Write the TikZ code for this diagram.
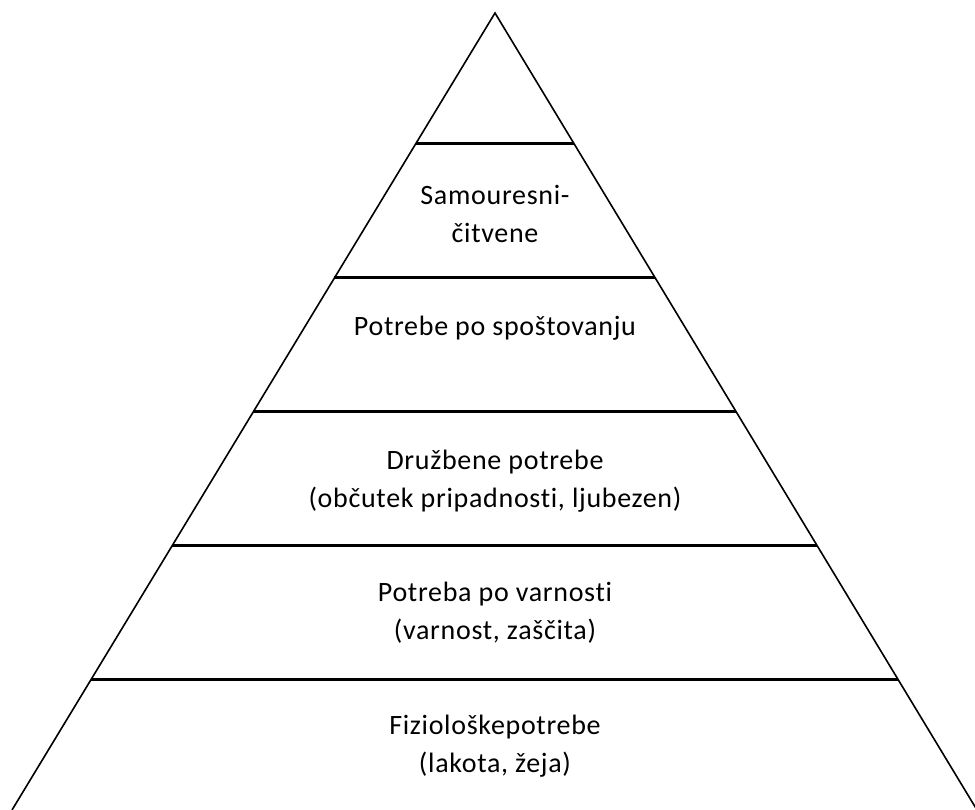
\documentclass[tikz,border=0pt]{standalone}
\usepackage{fontspec}
\setmainfont[Ligatures={NoCommon},LetterSpace=2.5]{Carlito}
\begin{document}
\begin{tikzpicture}[x=1pt,y=-1pt,
  side/.style={line width=1.6pt,line join=miter},
  level/.style={line width=3pt},
  lbl/.style={align=center,font=\fontsize{28}{38}\selectfont,inner sep=0pt}]
\useasboundingbox (0,0) rectangle (975,810);
\coordinate (apex) at (495,13);
\coordinate (bl) at (12,810);
\coordinate (br) at (977,810);
\draw[side] (bl) -- (apex) -- (br);
\foreach \y/\n in {144/a,278/b,412/c,546/d,679/e}{
  \path (apex) -- (bl) coordinate[pos={(\y-13)/797}] (L\n);
  \path (apex) -- (br) coordinate[pos={(\y-13)/797}] (R\n);
  \draw[level] (L\n) -- (R\n);
}
\node[lbl] (t1) at (495,214) {Samouresni-\\čitvene};
\node[lbl] (t2) at (495,328) {Potrebe po spoštovanju};
\node[lbl] (t3) at (495,481) {Družbene potrebe\\(občutek pripadnosti, ljubezen)};
\node[lbl] (t4) at (495,613) {Potreba po varnosti\\(varnost, zaščita)};
\node[lbl] (t5) at (495,746) {Fiziološkepotrebe\\(lakota, žeja)};
\end{tikzpicture}
\end{document}
